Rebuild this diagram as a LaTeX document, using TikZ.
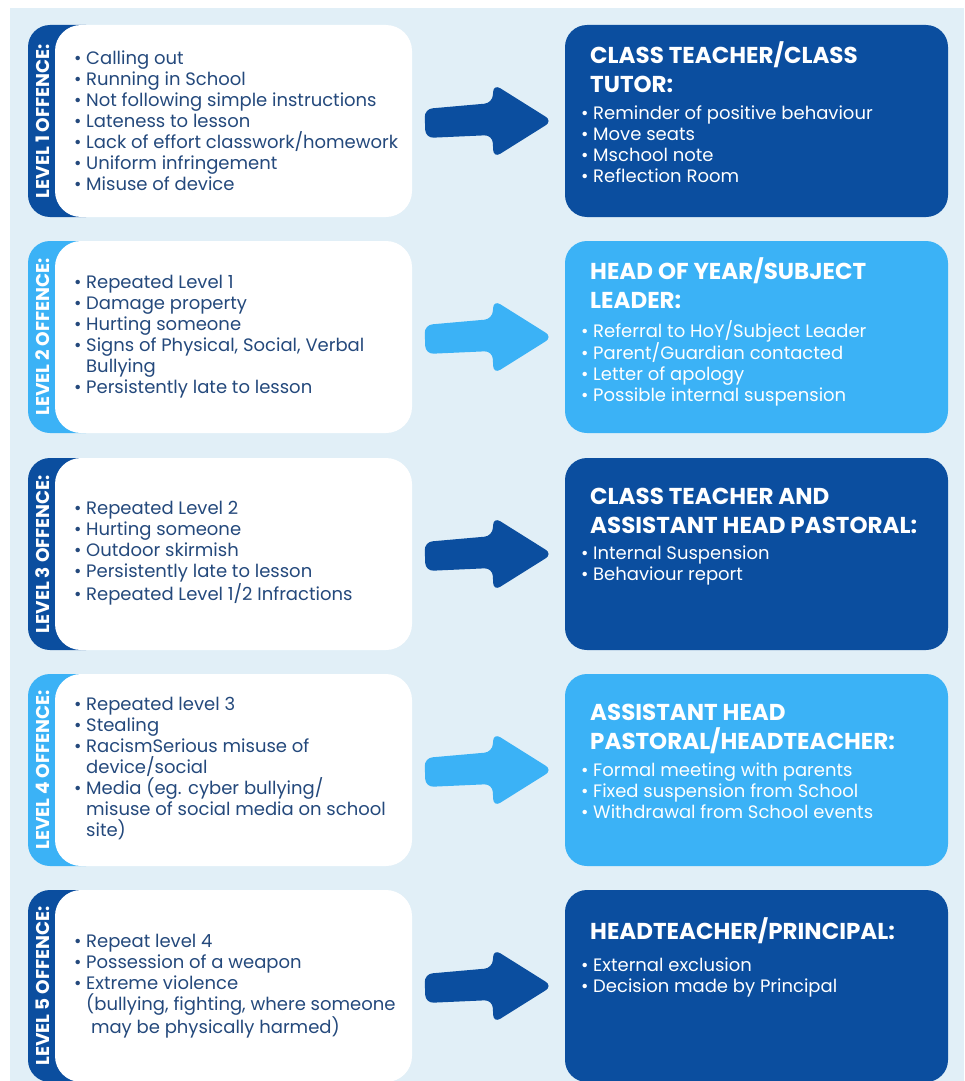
\documentclass[tikz,border=0pt]{standalone}
\usepackage{fontspec}
\setmainfont{Poppins}
\usetikzlibrary{calc}
\definecolor{dkblue}{HTML}{0B4E9F}
\definecolor{ltblue}{HTML}{3BB2F6}
\definecolor{bgblue}{HTML}{E1EFF7}
\definecolor{navytext}{HTML}{24497C}
\newcommand{\bl}{\makebox[12pt][l]{\textbullet}}
\newcommand{\ind}{\hspace*{12pt}}
\newcommand{\tstrut}{\rule{0pt}{20pt}}
\newcommand{\lstrut}{\rule{0pt}{15pt}}
\tikzset{
  stripbox/.style={minimum width=80pt, minimum height=192pt, rounded corners=22pt, inner sep=0pt},
  whitebox/.style={fill=white, minimum width=357pt, minimum height=192pt, rounded corners=26pt, inner sep=0pt},
  levellabel/.style={rotate=90, text=white, font=\bfseries\fontsize{18.5}{20}\selectfont, inner sep=0pt},
  offlist/.style={anchor=west, align=left, text=navytext, font=\fontsize{18}{21}\selectfont, inner sep=0pt},
  actbox/.style={minimum width=383pt, minimum height=192pt, rounded corners=22pt, inner sep=0pt},
  acttitle/.style={anchor=north west, align=left, text=white, font=\bfseries\fontsize{23}{29}\selectfont, inner sep=0pt},
  actlist/.style={anchor=north west, align=left, text=white, font=\fontsize{18}{21}\selectfont, inner sep=0pt},
  bigarrow/.style={rounded corners=8pt}
}
\begin{document}
\begin{tikzpicture}[x=1pt,y=-1pt]
\useasboundingbox (0,0) rectangle (964,1081);
\fill[white] (0,0) rectangle (964,1081);
\fill[bgblue] (10,8) rectangle (964,1081);

% rows: top y values 25, 241, 458, 674, 890
\foreach \i/\T/\col in {1/25/dkblue, 2/241/ltblue, 3/458/dkblue, 4/674/ltblue, 5/890/dkblue}{
  \node[stripbox, fill=\col] (s\i) at (68,\T+96) {};
  \node[whitebox] (w\i) at (233.5,\T+96) {};
  \node[levellabel] (l\i) at (43,\T+96) {LEVEL \i\ OFFENCE:};
  \node[actbox, fill=\col] (r\i) at (756.5,\T+96) {};
  \coordinate (m\i) at ($(w\i.east)!0.5!(r\i.west)$);
  \fill[\col, bigarrow] ($(m\i)+(-64,-12)$) -- ($(m\i)+(4,-18)$) -- ($(m\i)+(5,-37)$) -- ($(m\i)+(64,0)$) -- ($(m\i)+(5,37)$) -- ($(m\i)+(4,14)$) -- ($(m\i)+(-63,17)$) -- cycle;
}

% offence lists
\node[offlist] (o1) at (74,121) {\bl Calling out\\ \bl Running in School\\ \bl Not following simple instructions\\ \bl Lateness to lesson\\ \bl Lack of effort classwork/homework\\ \bl Uniform infringement\\ \bl Misuse of device};
\node[offlist] (o2) at (74,337) {\bl Repeated Level 1\\ \bl Damage property\\ \bl Hurting someone\\ \bl Signs of Physical, Social, Verbal\\ \ind Bullying\\ \bl Persistently late to lesson};
\node[offlist] (o3) at (74,553) {\bl Repeated Level 2\\ \bl Hurting someone\\ \bl Outdoor skirmish\\ \bl Persistently late to lesson\\ \bl Repeated Level 1/2 Infractions};
\node[offlist] (o4) at (74,769) {\bl Repeated level 3\\ \bl Stealing\\ \bl RacismSerious misuse of\\ \ind device/social\\ \bl Media (eg. cyber bullying/\\ \ind misuse of social media on school\\ \ind site)};
\node[offlist] (o5) at (74,986) {\bl Repeat level 4\\ \bl Possession of a weapon\\ \bl Extreme violence\\ \ind (bullying, fighting, where someone\\ \ind\ may be physically harmed)};

% action boxes
\node[acttitle] (t1) at (590,41) {\tstrut CLASS TEACHER/CLASS\\TUTOR:};
\node[actlist] (a1) at ($(t1.north west)+(-9,63)$) {\lstrut\bl Reminder of positive behaviour\\ \bl Move seats\\ \bl Mschool note\\ \bl Reflection Room};
\node[acttitle] (t2) at (590,257) {\tstrut HEAD OF YEAR/SUBJECT\\LEADER:};
\node[actlist] (a2) at ($(t2.north west)+(-9,63)$) {\lstrut\bl Referral to HoY/Subject Leader\\ \bl Parent/Guardian contacted\\ \bl Letter of apology\\ \bl Possible internal suspension};
\node[acttitle] (t3) at (590,484) {\tstrut CLASS TEACHER AND\\ASSISTANT HEAD PASTORAL:};
\node[actlist] (a3) at ($(t3.north west)+(-9,60)$) {\lstrut\bl Internal Suspension\\ \bl Behaviour report};
\node[acttitle] (t4) at (590,700) {\tstrut ASSISTANT HEAD\\PASTORAL/HEADTEACHER:};
\node[actlist] (a4) at ($(t4.north west)+(-9,61)$) {\lstrut\bl Formal meeting with parents\\ \bl Fixed suspension from School\\ \bl Withdrawal from School events};
\node[acttitle] (t5) at (590,917) {\tstrut HEADTEACHER/PRINCIPAL:};
\node[actlist] (a5) at ($(t5.north west)+(-9,39)$) {\lstrut\bl External exclusion\\ \bl Decision made by Principal};
\end{tikzpicture}
\end{document}
